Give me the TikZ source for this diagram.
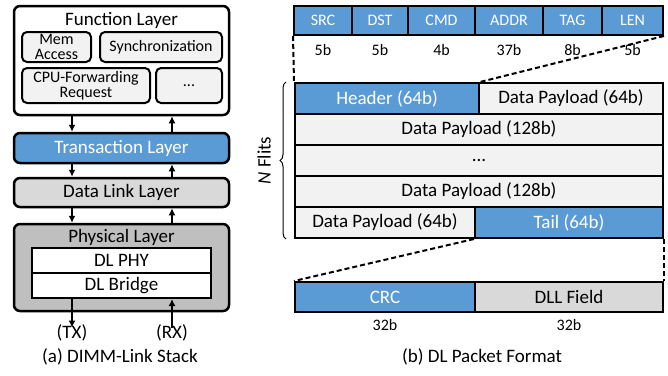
\documentclass[tikz,border=0pt]{standalone}
\usepackage{fontspec}
\setmainfont{Carlito}
\usepackage{tikz}
\usetikzlibrary{arrows.meta, shapes, positioning, decorations.pathreplacing}
\definecolor{dlblue}{HTML}{5B9BD5}
\definecolor{dllight}{HTML}{F2F2F2}
\definecolor{dlgray}{HTML}{D9D9D9}
\definecolor{dldark}{HTML}{BFBFBF}

\begin{document}
\begin{tikzpicture}[x=1pt, y=-1pt, >={Latex[length=7pt, width=7pt]}]
			\tikzstyle{every node} = [font = \fontsize{19}{21}\selectfont, inner sep = 0pt]
			\tikzstyle{layerbox} = [draw, line width = 2.5pt, rounded corners = 6pt, minimum width = 215pt]
			\tikzstyle{subbox} = [draw, line width = 2pt, rounded corners = 5pt, fill = dllight, align = center,
				font = \fontsize{16}{15.5}\selectfont]
			\tikzstyle{fieldbox} = [draw, line width = 2pt, fill = dlblue, text = white, minimum height = 29pt,
				font = \fontsize{16}{18}\selectfont]
			\tikzstyle{rowbox} = [draw, line width = 2pt, fill = dllight, minimum height = 31pt]
			\tikzstyle{bitlabel} = [font = \fontsize{16}{18}\selectfont]
			\useasboundingbox (0,0) rectangle (668,375);
			% (a) stack
				\node[layerbox, fill = white, minimum height = 109pt] (fn) at (121.5,60.5) {};
				\node (fnt) at (121.5,20) {Function Layer};
				\node[subbox, minimum width = 69pt, minimum height = 30pt] (mem) at (56.5,47) {Mem\\Access};
				\node[subbox, minimum width = 122pt, minimum height = 30pt] (sync) at (161,47) {Synchronization};
				\node[subbox, minimum width = 128pt, minimum height = 35pt] (cpu) at (86,85.5) {CPU-Forwarding\\Request};
				\node[subbox, minimum width = 66pt, minimum height = 35pt] (etc) at (189,85.5) {...};
				\node[layerbox, fill = dlblue, text = white, minimum height = 30pt] (tl) at (121.5,148) {Transaction Layer};
				\node[layerbox, fill = dlgray, minimum height = 29pt] (dl) at (121.5,192.5) {Data Link Layer};
				\node[layerbox, fill = dldark, minimum height = 87pt] (ph) at (121.5,267.5) {};
				\node (pht) at (121.5,237) {Physical Layer};
				\node[draw, line width = 2pt, fill = white, minimum width = 179pt, minimum height = 25pt] (phy)
					at (121.5,260.5) {DL PHY};
				\node[draw, line width = 2pt, fill = white, minimum width = 179pt, minimum height = 25pt] (br)
					at (121.5,285.5) {DL Bridge};
				\node (tx) at (72,333) {(TX)};
				\node (rx) at (172,333) {(RX)};
				\node (capa) at (120,357) {(a) DIMM-Link Stack};
				\path[draw, line width = 2pt, ->] (fn.south -| tx) -- (tl.north -| tx);
				\path[draw, line width = 2pt, ->] (tl.north -| rx) -- (fn.south -| rx);
				\path[draw, line width = 2pt, ->] (tl.south -| tx) -- (dl.north -| tx);
				\path[draw, line width = 2pt, ->] (dl.north -| rx) -- (tl.south -| rx);
				\path[draw, line width = 2pt, ->] (dl.south -| tx) -- (ph.north -| tx);
				\path[draw, line width = 2pt, ->] (ph.north -| rx) -- (dl.south -| rx);
				\path[draw, line width = 2pt, ->] (br.south -| tx) -- ([yshift = -3pt]tx.north);
				\path[draw, line width = 2pt, ->] ([yshift = -3pt]rx.north) -- (br.south -| rx);
			% (b) packet
				\node[fieldbox, minimum width = 58pt] (src) at (323,20.5) {SRC};
				\node[fieldbox, minimum width = 56pt] (dst) at (380,20.5) {DST};
				\node[fieldbox, minimum width = 67pt] (cmd) at (441.5,20.5) {CMD};
				\node[fieldbox, minimum width = 68pt] (addr) at (509,20.5) {ADDR};
				\node[fieldbox, minimum width = 59pt] (tag) at (572.5,20.5) {TAG};
				\node[fieldbox, minimum width = 61pt] (len) at (632.5,20.5) {LEN};
				\node[bitlabel, below = 8pt of src] (bsrc) {5b};
				\node[bitlabel, below = 8pt of dst] (bdst) {5b};
				\node[bitlabel, below = 8pt of cmd] (bcmd) {4b};
				\node[bitlabel, below = 8pt of addr] (baddr) {37b};
				\node[bitlabel, below = 8pt of tag] (btag) {8b};
				\node[bitlabel, below = 8pt of len] (blen) {5b};
				\node[rowbox, fill = dlblue, text = white, minimum width = 184pt] (hdr) at (387,98.5) {Header (64b)};
				\node[rowbox, minimum width = 184pt] (dpa) at (571,98.5) {Data Payload (64b)};
				\node[rowbox, minimum width = 368pt] (dpb) at (479,129.5) {Data Payload (128b)};
				\node[rowbox, minimum width = 368pt] (dots) at (479,160.5) {...};
				\node[rowbox, minimum width = 368pt] (dpc) at (479,191.5) {Data Payload (128b)};
				\node[rowbox, minimum width = 180pt] (dpd) at (385,222.5) {Data Payload (64b)};
				\node[rowbox, fill = dlblue, text = white, minimum width = 188pt] (tail) at (569,222.5) {Tail (64b)};
				\node[rowbox, fill = dlblue, text = white, minimum width = 180pt, minimum height = 30pt] (crc)
					at (385,297) {CRC};
				\node[rowbox, fill = dlgray, minimum width = 188pt, minimum height = 30pt] (dll)
					at (569,297) {DLL Field};
				\node[bitlabel, below = 6pt of crc] (bcrc) {32b};
				\node[bitlabel, below = 6pt of dll] (bdll) {32b};
				\node[rotate = 90] (nf) at (264,160.5) {\textit{N} Flits};
				\node (capb) at (482,357) {(b) DL Packet Format};
				\path[draw, line width = 1pt, decorate, decoration = {brace, amplitude = 6pt}]
					([xshift = -8pt]dpd.south west) -- ([xshift = -8pt]hdr.north west);
				\path[draw, line width = 2pt, dash pattern = on 5pt off 3pt] (src.south west) -- (hdr.north west);
				\path[draw, line width = 2pt, dash pattern = on 5pt off 3pt] (len.south east) -- (hdr.north east);
				\path[draw, line width = 2pt, dash pattern = on 5pt off 3pt] (tail.south west) -- (crc.north west);
				\path[draw, line width = 2pt, dash pattern = on 5pt off 3pt] (tail.south east) -- (dll.north east);
\end{tikzpicture}
\end{document}
